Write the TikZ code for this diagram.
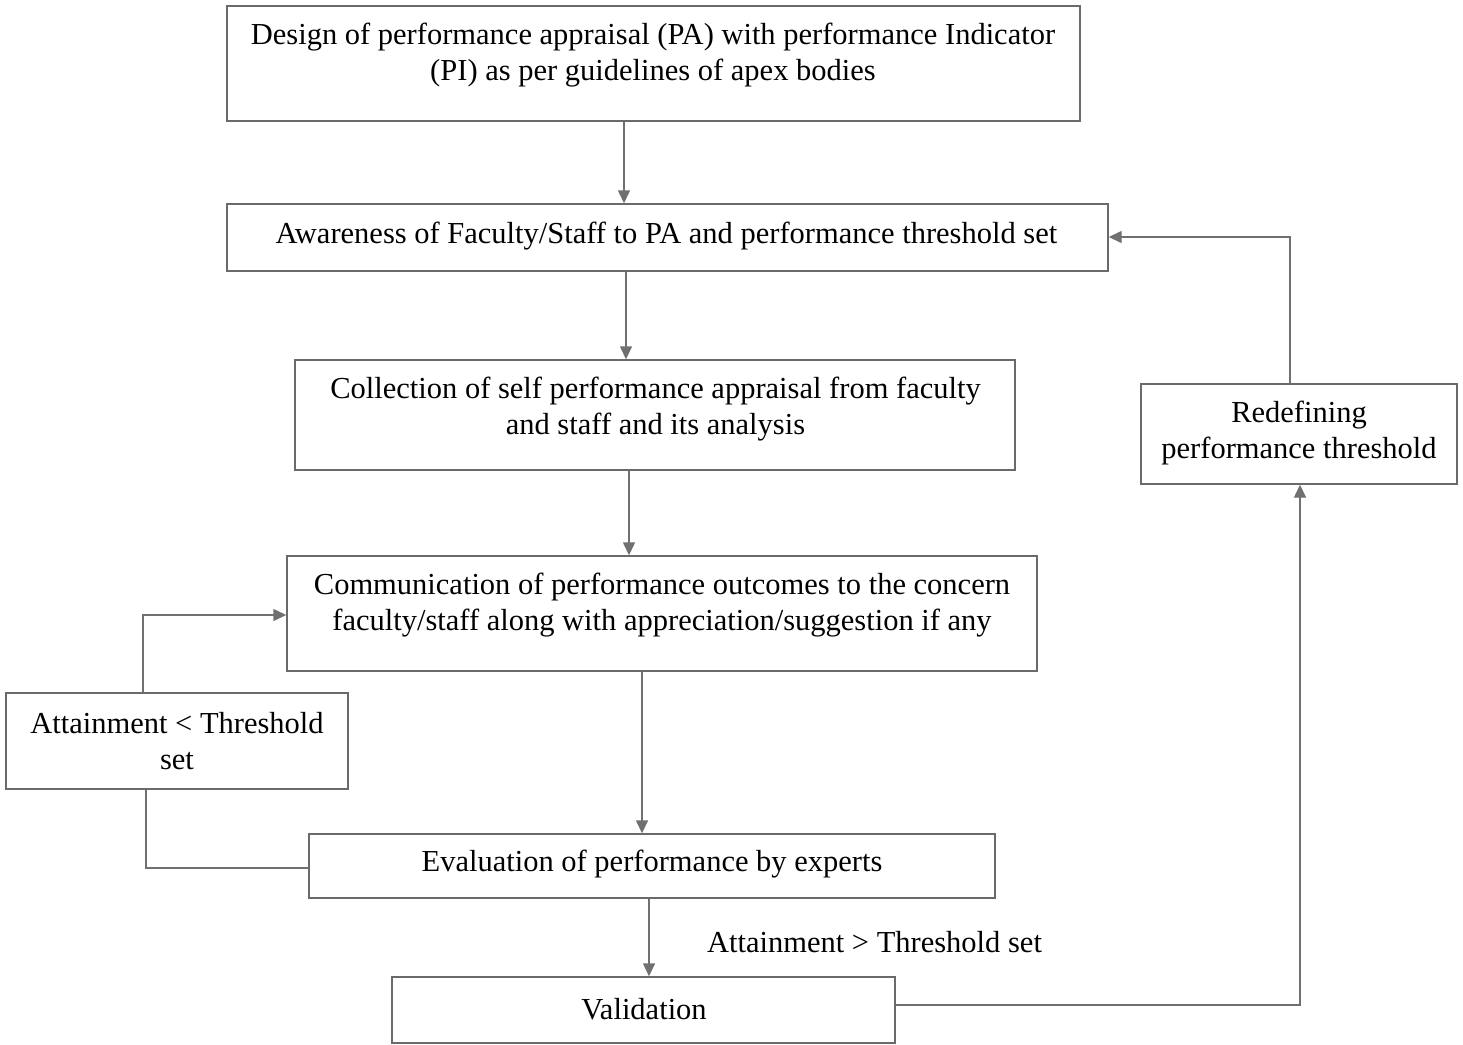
\documentclass[tikz,border=0pt]{standalone}
\usepackage{fontspec}
\setmainfont{Liberation Serif}
\usetikzlibrary{arrows.meta}
\definecolor{linegray}{HTML}{707070}
\definecolor{boxgray}{HTML}{6A6A6A}
\begin{document}
\begin{tikzpicture}[x=1pt,y=-1pt,
  box/.style={draw=boxgray,line width=1.4pt,rectangle,inner sep=0pt},
  txt/.style={align=center,font=\fontsize{30.5}{36}\selectfont,text=black,inner sep=0pt},
  conn/.style={draw=linegray,line width=1.4pt},
  arr/.style={conn,-{Triangle[length=13pt,width=12pt]}}]
\useasboundingbox (0,0) rectangle (1463,1044);
% boxes
\node[box,minimum width=853pt,minimum height=115pt] (design) at (653.5,63.5) {};
\node[box,minimum width=881pt,minimum height=67pt] (aware) at (667.5,237.5) {};
\node[box,minimum width=720pt,minimum height=110pt] (collect) at (655,415) {};
\node[box,minimum width=750pt,minimum height=115pt] (comm) at (662,613.5) {};
\node[box,minimum width=342pt,minimum height=96pt] (attain) at (177,741) {};
\node[box,minimum width=686pt,minimum height=64pt] (eval) at (652,866) {};
\node[box,minimum width=503pt,minimum height=66pt] (valid) at (643.5,1010) {};
\node[box,minimum width=316pt,minimum height=100pt] (redef) at (1299,434) {};
% texts
\node[txt] (tdesign) at (653,55) {Design of performance appraisal (PA) with performance Indicator\\(PI) as per guidelines of apex bodies};
\node[txt] (taware) at (666.5,236) {Awareness of Faculty/Staff to PA and performance threshold set};
\node[txt] (tcollect) at (655.5,409) {Collection of self performance appraisal from faculty\\and staff and its analysis};
\node[txt] (tcomm) at (662,605) {Communication of performance outcomes to the concern\\faculty/staff along with appreciation/suggestion if any};
\node[txt] (tattain) at (177,741) {Attainment < Threshold\\set};
\node[txt] (teval) at (652,864) {Evaluation of performance by experts};
\node[txt] (tvalid) at (644,1009) {Validation};
\node[txt] (tredef) at (1299,433) {Redefining\\performance threshold};
\node[txt] (tgt) at (874.5,942) {Attainment > Threshold set};
% guide coordinates
\coordinate (c1) at (624,0);
\coordinate (c2) at (626,0);
\coordinate (c3) at (629,0);
\coordinate (c4) at (642,0);
\coordinate (c5) at (649,0);
\coordinate (yl) at (0,868);
\coordinate (xl) at (146,0);
\coordinate (xu) at (143,0);
\coordinate (yu) at (0,615);
\coordinate (yv) at (0,1005);
\coordinate (xr) at (1300,0);
\coordinate (xt) at (1290,0);
\coordinate (yt) at (0,237);
% connectors
\draw[arr] (design.south -| c1) -- (aware.north -| c1);
\draw[arr] (aware.south -| c2) -- (collect.north -| c2);
\draw[arr] (collect.south -| c3) -- (comm.north -| c3);
\draw[arr] (comm.south -| c4) -- (eval.north -| c4);
\draw[arr] (eval.south -| c5) -- (valid.north -| c5);
\draw[conn] (eval.west |- yl) -| (attain.south -| xl);
\draw[arr] (attain.north -| xu) |- (comm.west |- yu);
\draw[arr] (valid.east |- yv) -| (redef.south -| xr);
\draw[arr] (redef.north -| xt) |- (aware.east |- yt);
\end{tikzpicture}
\end{document}
